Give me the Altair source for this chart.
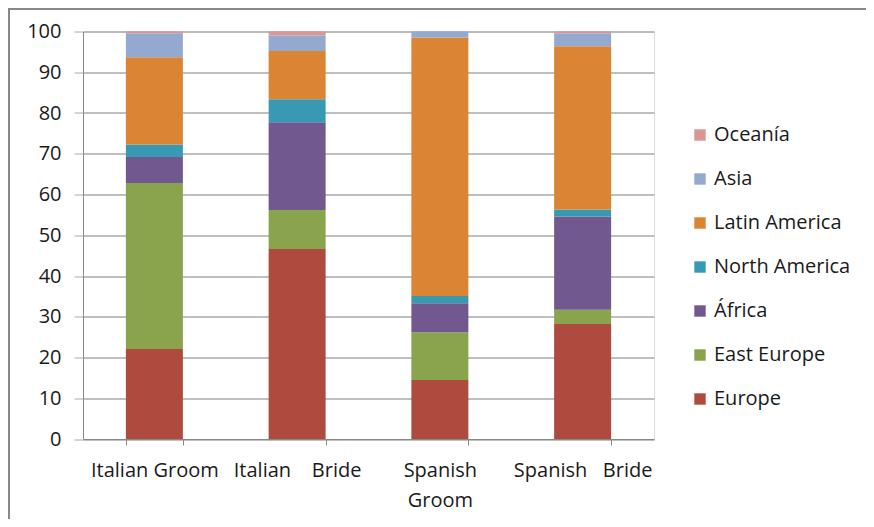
import altair as alt
import pandas as pd

categories = ["Italian Groom", "Italian Bride", "Spanish Groom", "Spanish Bride"]
regions = ["Europe", "East Europe", "África", "North America", "Latin America", "Asia", "Oceanía"]
europe = [22.1, 46.6, 14.5, 28.2]
east_europe = [40.7, 9.6, 11.7, 3.5]
africa = [6.4, 21.5, 7.1, 22.9]
north_america = [3.1, 5.7, 1.8, 1.7]
latin_america = [21.4, 11.8, 63.4, 40.1]
asia = [5.9, 3.8, 1.5, 3.2]
oceania = [0.4, 1.0, 0.0, 0.4]
colors = ["#AE4A3E", "#89A44D", "#71588F", "#3799B2", "#DB8433", "#94A9D0", "#D99694"]
y_ticks = list(range(0, 101, 10))

series = [europe, east_europe, africa, north_america, latin_america, asia, oceania]
rows = []
for ri, (reg, vals) in enumerate(zip(regions, series)):
    for cat, v in zip(categories, vals):
        rows.append({"category": cat, "region": reg, "value": v, "idx": ri})
df = pd.DataFrame(rows)

legend_order = list(reversed(regions))
legend_colors = list(reversed(colors))

FONT = "Open Sans"
FS = 20
TXT = "#1a1a1a"

bars = alt.Chart(df).mark_bar(size=57).encode(
    x=alt.X("category:N", sort=categories, title=None,
            scale=alt.Scale(paddingInner=0.6, paddingOuter=0.3),
            axis=alt.Axis(labelAngle=0, tickBand="extent", tickSize=6,
                          labelPadding=15, labelFontSize=FS, labelFont=FONT,
                          labelColor=TXT, domainColor="#888888",
                          tickColor="#888888", labelLineHeight=30,
                          labelBaseline="top",
                          labelExpr="datum.label == 'Spanish Groom' ? ['Spanish', 'Groom'] : datum.label == 'Italian Bride' ? 'Italian\u00a0\u00a0\u00a0\u00a0Bride' : datum.label == 'Spanish Bride' ? 'Spanish\u00a0\u00a0\u00a0Bride' : datum.label")),
    y=alt.Y("value:Q", stack="zero", title=None,
            scale=alt.Scale(domain=[0, 100], nice=False),
            axis=alt.Axis(values=y_ticks, tickSize=9, labelPadding=13,
                          labelFontSize=FS, labelFont=FONT, labelColor=TXT,
                          gridColor="#AAAAAA", gridWidth=1.3, domainColor="#888888",
                          tickColor="#AAAAAA")),
    color=alt.Color("region:N", title=None,
                    scale=alt.Scale(domain=legend_order, range=legend_colors),
                    legend=alt.Legend(orient="none", legendX=607, legendY=93.5,
                                      symbolType="square", symbolSize=130,
                                      symbolStrokeWidth=0, labelFontSize=FS,
                                      labelFont=FONT, labelColor=TXT,
                                      rowPadding=24, labelOffset=4)),
    order=alt.Order("idx:Q", sort="ascending"),
)

border_top = alt.Chart(pd.DataFrame({"a": [0]})).mark_rule(color="#888888", strokeWidth=2).encode(
    x=alt.value(-75), x2=alt.value(783), y=alt.value(-22.5))
border_left = alt.Chart(pd.DataFrame({"a": [0]})).mark_rule(color="#888888", strokeWidth=2).encode(
    x=alt.value(-74), y=alt.value(-23.5), y2=alt.value(500))

chart = alt.layer(bars, border_top, border_left).properties(
    width=571, height=407.5,
    autosize=alt.AutoSizeParams(type="none"),
    padding={"left": 75, "top": 23.5, "right": 212, "bottom": 80},
).configure_view(stroke=None).configure(background="white")

chart.save("out.html", embed_options={"renderer": "svg", "actions": False})
